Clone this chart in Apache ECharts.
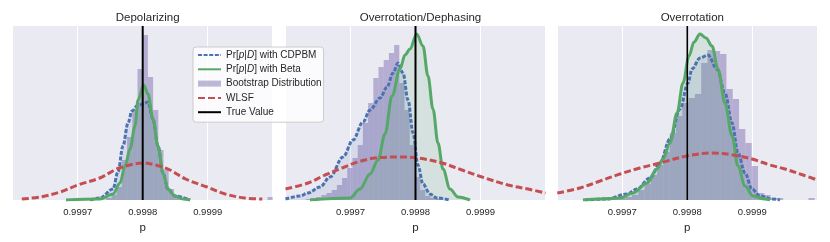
<!DOCTYPE html>
<html>
<head>
<meta charset="utf-8">
<script src="https://cdn.jsdelivr.net/npm/echarts@6/dist/echarts.min.js"></script>
<style>
html,body{margin:0;padding:0;background:#fff;}
#chart{width:830px;height:242px;}
</style>
</head>
<body>
<div id="chart"></div>
<script>
// ---------- data ----------
const panelTitles = ['Depolarizing', 'Overrotation/Dephasing', 'Overrotation'];
const trueValue = 0.9998;
const xTicks = [0.9997, 0.9998, 0.9999];
const seriesNames = ['Pr[p|D] with CDPBM', 'Pr[p|D] with Beta', 'Bootstrap Distribution', 'WLSF', 'True Value'];

// Depolarizing
const depolCdpbm = [[0.999719,0],[0.9997343,2],[0.9997543,11],[0.999762,28],[0.9997697,54],[0.9997774,77],[0.9997835,89],[0.9997912,94],[0.9998005,96],[0.9998082,98],[0.9998158,81],[0.9998235,54],[0.9998312,27],[0.9998389,11],[0.9998497,4],[0.9998728,0]];
const depolBeta = [[0.999682,0],[0.9997343,1],[0.9997543,6],[0.9997651,17],[0.9997728,34],[0.9997805,51],[0.9997882,74],[0.9997928,100],[0.9998015,115],[0.9998082,106],[0.9998158,81],[0.9998235,54],[0.9998312,27],[0.9998389,11],[0.9998497,4],[0.999862,1],[0.9998728,0]];
const depolWlsf = [[0.999614,1],[0.999642,3],[0.999673,8],[0.9997,15],[0.999734,22],[0.99976,31],[0.99978,35],[0.9998,37],[0.99982,35],[0.999842,30],[0.999866,21],[0.999899,13],[0.999927,6],[0.999957,2],[0.999984,1]];
const depolHistStart = 0.999744;
const depolHistWidth = 0.000008;
const depolHist = [2,5,13,40,63,90,131,165,123,90,50,30,11,4,2,0,0,0,0,0,0,0,0,0,0,0,0,0,0,0,0,3];

// Overrotation/Dephasing
const dephCdpbm = [[0.9996,1],[0.9996223,4],[0.9996346,7],[0.9996531,13],[0.9996685,23],[0.9996885,43],[0.9997038,60],[0.9997192,78],[0.99973,90],[0.9997454,102],[0.9997562,113],[0.9997654,127],[0.9997731,137],[0.9997808,127],[0.9997885,100],[0.9997962,67],[0.9998038,35],[0.9998115,16],[0.9998223,6],[0.9998331,2],[0.9998531,0]];
const dephBeta = [[0.9996377,0],[0.9996992,2],[0.9997146,11],[0.99973,26],[0.9997423,40],[0.9997531,66],[0.9997638,104],[0.9997762,131],[0.9997838,145],[0.9997915,151],[0.9998018,166],[0.9998115,154],[0.9998192,124],[0.9998269,91],[0.9998346,57],[0.9998423,31],[0.9998531,11],[0.9998654,3],[0.9998838,0]];
const dephWlsf = [[0.9996,11],[0.9996346,17],[0.9996608,25],[0.9996869,32],[0.9997115,38],[0.9997377,42],[0.9997762,43],[0.9998038,42],[0.9998408,37],[0.9998715,30],[0.9999023,23],[0.9999423,15],[0.9999731,11],[1.0,7]];
const dephHistStart = 0.9996311;
const dephHistWidth = 0.000008;
const dephHist = [1,2,3,5,7,10,15,22,32,42,55,77,97,122,133,140,147,155,117,90,55,23,10,4,2,1];

// Overrotation
const overCdpbm = [[0.9996426,0],[0.9996765,1],[0.9997072,6],[0.9997226,11],[0.9997426,22],[0.999758,37],[0.9997734,61],[0.9997888,91],[0.9998011,117],[0.9998072,131],[0.9998195,142],[0.9998318,145],[0.9998457,131],[0.999858,107],[0.9998688,77],[0.999878,47],[0.9998888,27],[0.9998995,11],[0.9999118,4],[0.9999303,1],[0.9999426,0]];
const overBeta = [[0.9996395,0],[0.9996657,1],[0.9996965,2],[0.9997165,7],[0.999738,17],[0.9997534,31],[0.9997626,41],[0.9997734,57],[0.9997842,87],[0.9997934,117],[0.9998026,144],[0.9998103,158],[0.9998195,166],[0.9998288,162],[0.999838,154],[0.9998472,131],[0.999858,97],[0.9998688,64],[0.999878,34],[0.9998888,14],[0.9999011,4],[0.9999195,1],[0.9999272,0]];
const overWlsf = [[0.9996,7],[0.9996349,12],[0.9996657,19],[0.9996965,26],[0.9997272,32],[0.999758,37],[0.9997995,44],[0.999838,47],[0.9998703,45],[0.9998995,41],[0.9999272,35],[0.9999503,31],[0.999978,25],[1.0,20]];
const overHistStart = 0.9996856;
const overHistWidth = 0.0000097;
const overHist = [1,2,3,5,10,16,25,35,48,67,84,97,102,106,137,150,149,146,111,101,71,57,34,7,5,2,2,0,0,0,0,2];

// ---------- build ----------
const panels = [
  {cdpbm: depolCdpbm, beta: depolBeta, wlsf: depolWlsf, hs: depolHistStart, hw: depolHistWidth, h: depolHist, tw: 2},
  {cdpbm: dephCdpbm, beta: dephBeta, wlsf: dephWlsf, hs: dephHistStart, hw: dephHistWidth, h: dephHist, tw: 2},
  {cdpbm: overCdpbm, beta: overBeta, wlsf: overWlsf, hs: overHistStart, hw: overHistWidth, h: overHist, tw: 1.6}
];
const gridLefts = [12.7, 285.5, 557.3];
const gridWidth = 260;
const gridTop = 26, gridHeight = 174;
const FONT = '"Liberation Sans", Arial, sans-serif';
const txt = '#262626';
const histColor = 'rgba(129,114,178,0.5)';

const grid = [], xAxis = [], yAxis = [], series = [], title = [];
panels.forEach((p, i) => {
  grid.push({left: gridLefts[i], top: gridTop, width: gridWidth, height: gridHeight,
    show: true, backgroundColor: '#EAEAF2', borderWidth: 0});
  title.push({text: panelTitles[i], left: gridLefts[i] + gridWidth / 2, top: 7, textAlign: 'center',
    textStyle: {fontSize: 11.5, fontWeight: 'normal', color: txt, fontFamily: FONT}});
  xAxis.push({gridIndex: i, type: 'value', min: 0.9996, max: 1.0, interval: 0.0001,
    axisLine: {show: false}, axisTick: {show: false},
    axisLabel: {fontSize: 9.5, color: txt, fontFamily: FONT, margin: 7, showMinLabel: false, showMaxLabel: false,
      formatter: v => (xTicks.some(t => Math.abs(t - v) < 1e-9) ? v.toFixed(4) : '')},
    splitLine: {show: true, lineStyle: {color: '#ffffff', width: 1}},
    name: 'p', nameLocation: 'middle', nameGap: 18,
    nameTextStyle: {fontSize: 11.5, color: txt, fontFamily: FONT}});
  yAxis.push({gridIndex: i, type: 'value', min: 0, max: gridHeight, show: false, splitLine: {show: false}});

  const histData = [];
  p.h.forEach((v, k) => { if (v > 0) histData.push([p.hs + k * p.hw, p.hs + (k + 1) * p.hw, v]); });
  series.push({
    name: seriesNames[2], type: 'custom', xAxisIndex: i, yAxisIndex: i, z: 1,
    itemStyle: {color: histColor},
    encode: {x: [0, 1], y: 2},
    data: histData,
    renderItem: (params, api) => {
      const a = api.coord([api.value(0), 0]);
      const b = api.coord([api.value(1), api.value(2)]);
      return {type: 'rect', shape: {x: a[0], y: b[1], width: b[0] - a[0], height: a[1] - b[1]},
        style: {fill: histColor}};
    }
  });
  series.push({
    name: seriesNames[0], type: 'line', xAxisIndex: i, yAxisIndex: i, z: 3,
    data: p.cdpbm, symbol: 'none', smooth: 0.35, smoothMonotone: 'x',
    lineStyle: {color: '#4C72B0', width: 3, type: [4, 1.6]},
    itemStyle: {color: '#4C72B0'},
    areaStyle: {color: 'rgba(76,114,176,0.18)'}
  });
  series.push({
    name: seriesNames[1], type: 'line', xAxisIndex: i, yAxisIndex: i, z: 3,
    data: p.beta, symbol: 'none', smooth: 0.35, smoothMonotone: 'x',
    lineStyle: {color: '#55A868', width: 3},
    itemStyle: {color: '#55A868'},
    areaStyle: {color: 'rgba(85,168,104,0.2)'}
  });
  series.push({
    name: seriesNames[3], type: 'line', xAxisIndex: i, yAxisIndex: i, z: 4,
    data: p.wlsf, symbol: 'none', smooth: 0.35,
    lineStyle: {color: '#C44E52', width: 3, type: [7, 3]},
    itemStyle: {color: '#C44E52'}
  });
  series.push({
    name: seriesNames[4], type: 'line', xAxisIndex: i, yAxisIndex: i, z: 5,
    data: [[trueValue, 0], [trueValue, gridHeight]], symbol: 'none',
    lineStyle: {color: '#000000', width: p.tw},
    itemStyle: {color: '#000000'}
  });
});

const chart = echarts.init(document.getElementById('chart'), null, {renderer: 'canvas'});
chart.setOption({
  animation: false,
  backgroundColor: '#ffffff',
  title, grid, xAxis, yAxis, series,
  legend: {
    orient: 'vertical', left: 193, top: 47,
    data: [
      {name: seriesNames[0]}, {name: seriesNames[1]},
      {name: seriesNames[2], icon: 'rect', itemStyle: {color: 'rgba(129,114,178,0.5)', opacity: 1}},
      {name: seriesNames[3]}, {name: seriesNames[4]}
    ],
    itemStyle: {opacity: 0},
    itemWidth: 23, itemHeight: 6, itemGap: 4.3,
    padding: [3, 2, 5, 4],
    backgroundColor: 'rgba(255,255,255,0.8)', borderColor: '#cccccc', borderWidth: 1, borderRadius: 3,
    formatter: name => name.replace('Pr[p|D]', 'Pr[{i|p}|{i|D}]'),
    textStyle: {fontSize: 10, color: txt, fontFamily: FONT, lineHeight: 10,
      rich: {i: {fontSize: 10, fontStyle: 'italic', color: txt, fontFamily: FONT, lineHeight: 10}}},
    selectedMode: false
  }
});
</script>
</body>
</html>
